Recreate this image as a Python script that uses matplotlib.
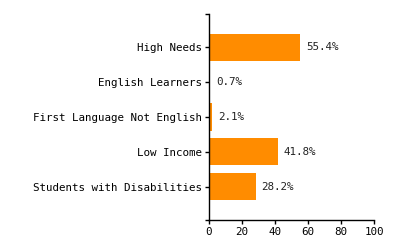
import matplotlib
matplotlib.use("Agg")
import matplotlib.pyplot as plt
import numpy as np

categories = ["High Needs", "English Learners", "First Language Not English",
              "Low Income", "Students with Disabilities"]
values = [55.4, 0.7, 2.1, 41.8, 28.2]
x_ticks = [0, 20, 40, 60, 80, 100]

plt.rcParams['font.family'] = ['DejaVu Sans Mono']
plt.rcParams['font.size'] = 7.8

fig = plt.figure(figsize=(4, 2.5), dpi=100)
ax = fig.add_axes([209 / 400, 30 / 250, 165 / 400, 206 / 250])

y = np.arange(len(categories))
ax.barh(y, values, height=0.78, color='#ff8c00')

for yi, v in zip(y, values):
    ax.annotate(f"{v}%", (v, yi), xytext=(6, 0), textcoords='offset pixels',
                va='center', ha='left', fontsize=7.8, color='#222222')

ax.set_xlim(0, 100)
ax.set_ylim(4.96, -0.96)
ax.set_yticks(y)
ax.set_yticklabels(categories)
ax.set_xticks(x_ticks)

# outer ticks at the domain ends, like a d3 axis
ax.set_yticks([-0.96, 4.96], minor=True)
ax.tick_params(axis='both', which='both', length=3, width=1, color='black',
               labelsize=7.8, pad=2)
ax.tick_params(axis='y', which='minor', length=3)

for s in ['top', 'right']:
    ax.spines[s].set_visible(False)
for s in ['left', 'bottom']:
    ax.spines[s].set_linewidth(1)
    ax.spines[s].set_color('black')

fig.savefig("out.png", dpi=100)
